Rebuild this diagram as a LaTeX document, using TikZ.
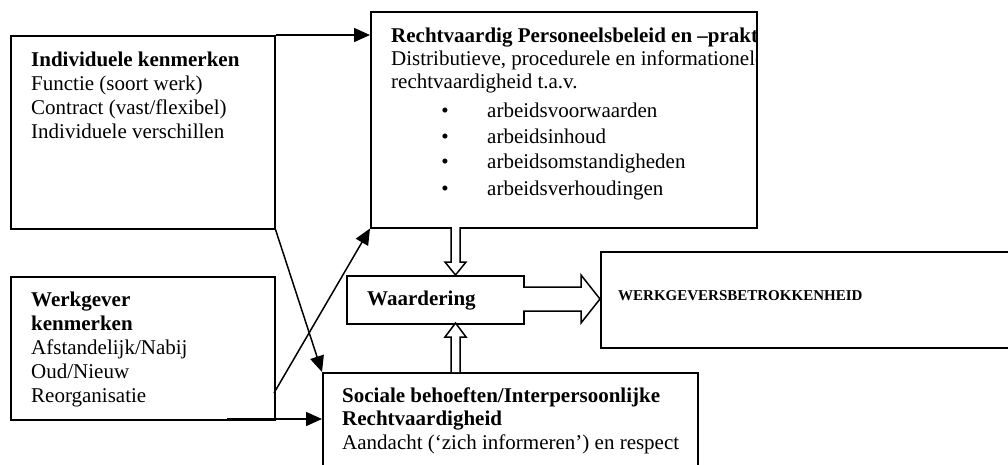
\documentclass[tikz,border=0pt]{standalone}
\usepackage{fontspec}
\setmainfont{Liberation Serif}
\usetikzlibrary{arrows.meta}
\begin{document}
\begin{tikzpicture}[x=1pt,y=-1pt,
  box/.style={draw,line width=1.5pt,inner sep=0pt,anchor=north west},
  txt/.style={inner sep=0pt,anchor=base west,font=\fontsize{21}{24}\selectfont},
  bul/.style={inner sep=0pt,anchor=base,font=\fontsize{21}{24}\selectfont},
  big/.style={inner sep=0pt,anchor=base west,font=\fontsize{15}{18}\selectfont\bfseries},
  conn/.style={line width=1.5pt,-{Triangle[length=16pt,width=14pt]}},
  hollow/.style={draw,fill=white,line width=1.5pt,line join=miter}]
\useasboundingbox (0,0) rectangle (1008,464);
\clip (0,0) rectangle (1008,464);
% boxes
\node[box,minimum width=264pt,minimum height=193pt] (ind) at (10,35) {};
\node[box,minimum width=386pt,minimum height=216pt] (rech) at (370,11) {};
\node[box,minimum width=177pt,minimum height=48pt] (waar) at (346,275) {};
\node[box,minimum width=430pt,minimum height=96pt] (werk) at (600,251) {};
\node[box,minimum width=264pt,minimum height=143pt] (wg) at (10,276) {};
\node[box,minimum width=375pt,minimum height=130pt] (soc) at (322,372) {};
% texts
\node[txt] (i1) at (31,66) {\textbf{Individuele kenmerken}};
\node[txt] (i2) at (31,90) {Functie (soort werk)};
\node[txt] (i3) at (31,114) {Contract (vast/flexibel)};
\node[txt] (i4) at (31,138) {Individuele verschillen};
\begin{scope}
\clip (rech.north west) rectangle ([xshift=-1pt]rech.south east);
\node[txt] (r1) at (391,42) {\textbf{Rechtvaardig Personeelsbeleid en –praktijken}};
\node[txt] (r2) at (391,65) {Distributieve, procedurele en informationele};
\node[txt] (r3) at (391,88) {rechtvaardigheid t.a.v.};
\end{scope}
\node[bul] (b1) at (445,117) {•};
\node[bul] (b2) at (445,143) {•};
\node[bul] (b3) at (445,168) {•};
\node[bul] (b4) at (445,195) {•};
\node[txt] (r4) at (487,117) {arbeidsvoorwaarden};
\node[txt] (r5) at (487,143) {arbeidsinhoud};
\node[txt] (r6) at (487,168) {arbeidsomstandigheden};
\node[txt] (r7) at (487,195) {arbeidsverhoudingen};
\node[txt] (w1) at (367,305) {\textbf{Waardering}};
\node[big] (k1) at (618,300) {WERKGEVERSBETROKKENHEID};
\node[txt] (g1) at (31,306) {\textbf{Werkgever}};
\node[txt] (g2) at (31,330) {\textbf{kenmerken}};
\node[txt] (g3) at (31,354) {Afstandelijk/Nabij};
\node[txt] (g4) at (31,378) {Oud/Nieuw};
\node[txt] (g5) at (31,402) {Reorganisatie};
\node[txt] (s1) at (342,402) {\textbf{Sociale behoeften/Interpersoonlijke}};
\node[txt] (s2) at (342,425) {\textbf{Rechtvaardigheid}};
\node[txt] (s3) at (342,449) {Aandacht (‘zich informeren’) en respect};
% connectors
\draw[conn] (ind.north east) -- (rech.west |- ind.north east);
\draw[conn] (ind.south east) -- (soc.north west);
\coordinate (wgout) at (274,393);
\draw[conn] (wgout) -- (rech.south west);
\coordinate (wgbot) at (227,419);
\draw[conn] (wgbot) -- (soc.west |- wgbot);
% hollow arrows
\draw[hollow] (451,227) -- (451,262) -- (445,262) -- (455.5,275) -- (466,262) -- (460,262) -- (460,227);
\draw[hollow] (451,372) -- (451,337) -- (445,337) -- (455.5,323) -- (466,337) -- (460,337) -- (460,372);
\draw[hollow] (523,287) -- (581,287) -- (581,275) -- (600,299) -- (581,323) -- (581,311) -- (523,311);
\end{tikzpicture}
\end{document}
